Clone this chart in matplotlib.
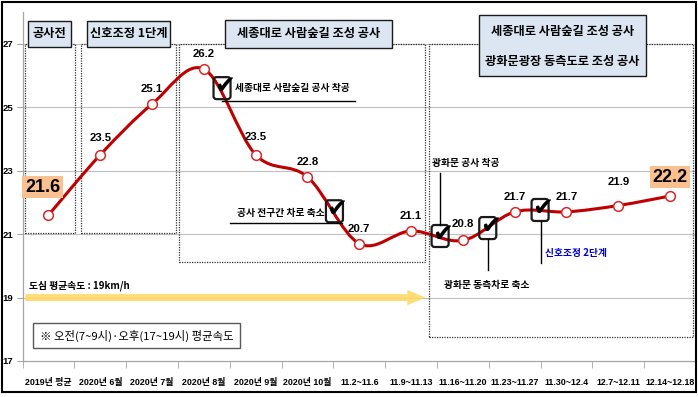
import matplotlib
matplotlib.use('Agg')
import matplotlib.pyplot as plt
import matplotlib.transforms as mtransforms
from matplotlib.path import Path
from matplotlib.patches import PathPatch, FancyBboxPatch, Rectangle, FancyArrowPatch
import numpy as np

# ---------------- data ----------------
categories = ['2019년 평균', '2020년 6월', '2020년 7월', '2020년 8월', '2020년 9월',
              '2020년 10월', '11.2~11.6', '11.9~11.13', '11.16~11.20', '11.23~11.27',
              '11.30~12.4', '12.7~12.11', '12.14~12.18']
speeds = [21.6, 23.5, 25.1, 26.2, 23.5, 22.8, 20.7, 21.1, 20.8, 21.7, 21.7, 21.9, 22.2]
city_avg = 19
yticks = [17, 19, 21, 23, 25, 27]
phase_labels = ['공사전', '신호조정 1단계', '세종대로 사람숲길 조성 공사',
                '세종대로 사람숲길 조성 공사', '광화문광장 동측도로 조성 공사']
event_labels = ['세종대로 사람숲길 공사 착공', '공사 전구간 차로 축소', '광화문 공사 착공',
                '광화문 동측차로 축소', '신호조정 2단계']
city_label = '도심 평균속도 : 19km/h'
note_label = '※ 오전(7~9시)·오후(17~19시) 평균속도'

KR = ['Noto Sans CJK KR', 'DejaVu Sans']
NUM = ['Liberation Sans', 'Noto Sans CJK KR', 'DejaVu Sans']

W, H = 698, 397
fig = plt.figure(figsize=(W / 100, H / 100), dpi=100)
fig.patch.set_facecolor('white')


def fx(px):
    return px / W


def fy(py):
    return 1 - py / H


ax = fig.add_axes([fx(22.6), fy(361), (696 - 22.6) / W, (361 - 12) / H])
ax.set_xlim(-0.5, len(categories) - 0.5)
ax.set_ylim(17, 28)
ax.patch.set_alpha(0)

for s in ['top', 'right']:
    ax.spines[s].set_visible(False)
for s in ['left', 'bottom']:
    ax.spines[s].set_color('#A6A6A6')
    ax.spines[s].set_linewidth(0.9)

# grid
for v in yticks[1:]:
    ax.axhline(v, color='#BFBFBF', lw=0.8, zorder=1)

ax.set_yticks(yticks)
ax.set_yticklabels([str(v) for v in yticks], family=NUM, fontsize=6.8, fontweight='bold')
ax.tick_params(axis='y', length=4, color='#A6A6A6', pad=3)

x = np.arange(len(categories), dtype=float)
ax.set_xticks(x)
ax.set_xticklabels(categories, family=NUM, fontsize=6.4, fontweight='bold')
ax.set_xticks(np.arange(-0.5, len(categories)), minor=True)
ax.tick_params(axis='x', which='major', length=0, pad=12)
ax.tick_params(axis='x', which='minor', length=5, color='#A6A6A6')

# dotted phase regions
regions = [(-0.45, 0.52, 21.05, 27), (0.63, 2.47, 21.05, 27),
           (2.52, 7.27, 20.12, 27), (7.35, 12.44, 17.76, 27)]
for x0, x1, y0, y1 in regions:
    ax.add_patch(Rectangle((x0, y0), x1 - x0, y1 - y0, fill=False, ec='#333333',
                           lw=0.9, ls=(0, (1, 1)), zorder=2))

# yellow arrow (city average)
ax.add_patch(FancyArrowPatch((-0.5, city_avg), (7.33, city_avg),
                             arrowstyle='simple,head_length=1.3,head_width=1.1,tail_width=0.5',
                             mutation_scale=10, fc='#FFD966', ec='none', alpha=0.9, zorder=3))
ax.text(-0.38, 19.2, city_label, family=KR, fontsize=7, fontweight='bold',
        ha='left', va='bottom', zorder=4)

# smoothed line
y = np.array(speeds, dtype=float)
P = np.column_stack([x, y])
n = len(P)
verts = [P[0]]
codes = [Path.MOVETO]
for i in range(n - 1):
    p0 = P[i - 1] if i > 0 else P[i]
    p3 = P[i + 2] if i + 2 < n else P[i + 1]
    c1 = P[i] + (P[i + 1] - p0) / 6
    c2 = P[i + 1] - (p3 - P[i]) / 6
    verts += [c1, c2, P[i + 1]]
    codes += [Path.CURVE4] * 3
ax.add_patch(PathPatch(Path(verts, codes), fc='none', ec='#C00000', lw=2.2,
                       zorder=5, capstyle='round'))
ax.plot(x, y, ls='none', marker='o', ms=7, mfc='white', mec='#D42A2A', mew=1.1, zorder=6)

# data labels
label_offsets = [0, 17, 15, 15, 18, 15, 15, 15, 16, 15, 15, 24, 0]
for i, (xi, yi) in enumerate(zip(x, y)):
    if i == 0 or i == n - 1:
        continue
    ax.annotate(f'{yi:.1f}', (xi, yi), xytext=(0, label_offsets[i] * 0.72),
                textcoords='offset points', ha='center', va='center',
                family=NUM, fontsize=8.2, fontweight='bold', zorder=7)

hl = dict(boxstyle='square,pad=0.15', fc='#FAC090', ec='none')
ax.annotate(f'{y[0]:.1f}', (x[0], y[0]), xytext=(-6 * 0.72, 28 * 0.72),
            textcoords='offset points', ha='center', va='center', family=NUM,
            fontsize=13, fontweight='bold', bbox=hl, zorder=7)
ax.annotate(f'{y[-1]:.1f}', (x[-1], y[-1]), xytext=(0, 19 * 0.72),
            textcoords='offset points', ha='center', va='center', family=NUM,
            fontsize=13, fontweight='bold', bbox=hl, zorder=7)


def pix_trans(xd, yd):
    return (mtransforms.Affine2D().scale(1 / 100) + fig.dpi_scale_trans +
            mtransforms.ScaledTranslation(xd, yd, ax.transData))


def check(xd, yd):
    t = pix_trans(xd, yd)
    ax.add_patch(FancyBboxPatch((-8.5, -11), 17, 22, boxstyle='round,pad=0,rounding_size=3',
                                fc='none', ec='#1a1a1a', lw=1.6, transform=t, zorder=8))
    ax.text(2.5, 2, '✔', transform=t, family='DejaVu Sans', fontsize=18,
            fontweight='bold', ha='center', va='center', color='black', zorder=9)


# events
check(3.35, 25.6)
ax.text(3.6, 25.62, event_labels[0], family=KR, fontsize=7, fontweight='bold',
        ha='left', va='center', zorder=8)
ax.plot([3.35, 5.92], [25.19, 25.19], color='black', lw=1.0, zorder=8)

check(5.52, 21.72)
ax.text(5.34, 21.67, event_labels[1], family=KR, fontsize=7, fontweight='bold',
        ha='right', va='center', zorder=8)
ax.plot([3.51, 5.67], [21.35, 21.35], color='black', lw=1.0, zorder=8)

check(7.56, 20.94)
ax.plot([7.56, 7.56], [21.28, 22.92], color='black', lw=1.0, zorder=8)
ax.text(7.4, 23.24, event_labels[2], family=KR, fontsize=7, fontweight='bold',
        ha='left', va='center', zorder=8)

check(8.48, 21.19)
ax.plot([8.48, 8.48], [20.84, 19.87], color='black', lw=1.0, zorder=8)
ax.text(8.47, 19.39, event_labels[3], family=KR, fontsize=7, fontweight='bold',
        ha='center', va='center', zorder=8)

check(9.49, 21.76)
ax.plot([9.51, 9.51], [21.41, 20.09], color='black', lw=1.0, zorder=8)
ax.text(9.58, 20.40, event_labels[4], family=KR, fontsize=7, fontweight='bold',
        ha='left', va='center', color='#0000CC', zorder=8)

# note box
fig.add_artist(Rectangle((fx(33), fy(348)), fx(240) - fx(33), fy(323) - fy(348),
                         transform=fig.transFigure, fc='white', ec='#595959', lw=1.0, zorder=10))
fig.text(fx(137), fy(335.5), note_label, family=KR, fontsize=8.2, fontweight='medium',
         ha='center', va='center', zorder=11)

# phase boxes
boxes = [((28, 21, 71, 47), [phase_labels[0]], [34]),
         ((87, 21, 170, 47), [phase_labels[1]], [34]),
         ((225, 20, 392, 48), [phase_labels[2]], [34]),
         ((479, 15, 646, 76), [phase_labels[3], phase_labels[4]], [32, 61])]
for (x0, y0, x1, y1), labels, ys in boxes:
    fig.add_artist(Rectangle((fx(x0), fy(y1)), fx(x1) - fx(x0), fy(y0) - fy(y1),
                             transform=fig.transFigure, fc='#DCE6F2', ec='#1a1a1a',
                             lw=1.0, zorder=10))
    for lab, yy in zip(labels, ys):
        fig.text(fx((x0 + x1) / 2), fy(yy), lab, family=KR, fontsize=8.8,
                 fontweight='bold', ha='center', va='center', zorder=11)

# outer border
fig.add_artist(Rectangle((fx(2), fy(392)), fx(696) - fx(2), fy(2) - fy(392),
                         transform=fig.transFigure, fill=False, ec='black', lw=1.5, zorder=12))

fig.savefig('out.png', dpi=100)
